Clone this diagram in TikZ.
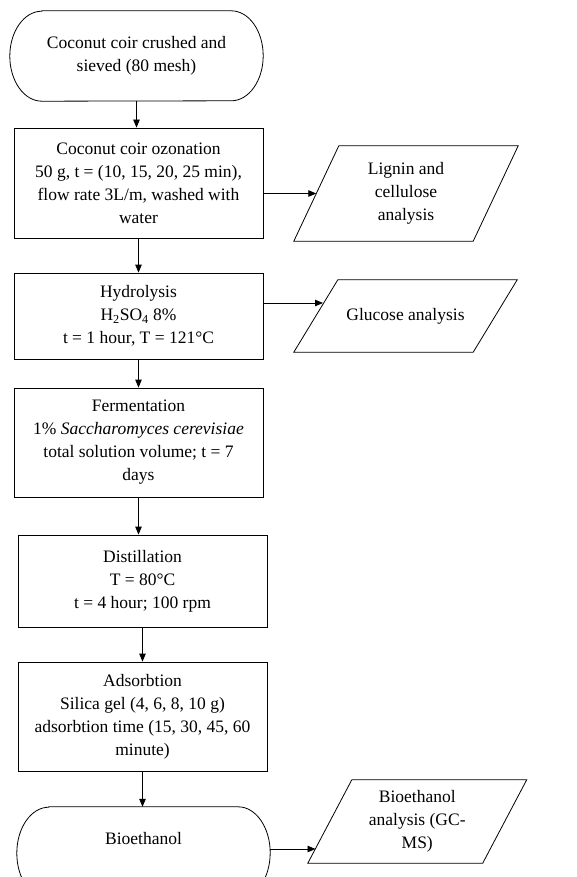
\documentclass[tikz,border=0pt]{standalone}
\usepackage{fontspec}
\setmainfont{Liberation Serif}
\usetikzlibrary{arrows.meta,positioning,calc}

\begin{document}
\begin{tikzpicture}[
    x=1pt, y=-1pt,
    proc/.style={rectangle, draw, line width=0.8pt, minimum width=249pt, align=center, inner sep=0pt},
    term/.style={rectangle, minimum width=253pt, align=center, inner sep=0pt},
    io/.style={rectangle, minimum width=179pt, align=center, inner sep=0pt},
    arr/.style={-{Triangle[length=8pt,width=6.5pt]}, line width=0.8pt},
    font=\fontsize{17.5}{23}\selectfont
]
\useasboundingbox (0,0) rectangle (577,877);
\clip (0,0) rectangle (577,877);
% main process chain
\node[term, minimum height=90pt] (start) at (136.5,56) {Coconut coir crushed and\\sieved (80 mesh)};
\node[proc, minimum height=110pt] (ozon) at (138.5,183) {Coconut coir ozonation\\50 g, t = (10, 15, 20, 25 min),\\flow rate 3L/m, washed with\\water};
\node[proc, minimum height=86pt] (hydro) at (138.5,316) {Hydrolysis\\H\textsubscript{2}SO\textsubscript{4} 8\%\\t = 1 hour, T = 121°C};
\node[proc, minimum height=109pt] (ferm) at (138.5,442.5) {Fermentation\\1\% \textit{Saccharomyces cerevisiae}\\total solution volume; t = 7\\days};
\node[proc, minimum height=92pt] (dist) at (142.5,581) {Distillation\\T = 80°C\\t = 4 hour; 100 rpm};
\node[proc, minimum height=109pt] (ads) at (142.5,716.5) {Adsorbtion\\Silica gel (4, 6, 8, 10 g)\\adsorbtion time (15, 30, 45, 60\\minute)};
\node[term, minimum height=92pt] (bio) at (143.5,853) {\raisebox{29pt}{Bioethanol}};
% terminal outlines (elliptic ends)
\foreach \n/\r in {start/45, bio/46} {
    \draw[line width=0.8pt] ($(\n.north west)+(32,0)$) -- ($(\n.north east)+(-32,0)$)
        arc[start angle=-90, end angle=90, x radius=32, y radius=\r]
        -- ($(\n.south west)+(32,0)$)
        arc[start angle=90, end angle=270, x radius=32, y radius=\r] -- cycle;
}
\foreach \a/\b in {start/ozon, ozon/hydro, hydro/ferm, ferm/dist, dist/ads, ads/bio} {
    \draw[arr] (\a.south) -- (\a.south |- \b.north);
}
% analyses
\node[io, minimum height=95pt] (lig) at (406,193.5) {Lignin and\\cellulose\\analysis};
\node[io, minimum height=72pt] (glu) at (405.5,316) {Glucose analysis};
\node[io, minimum width=174.5pt, minimum height=83pt] (gcms) at (417.25,821.5) {Bioethanol\\analysis (GC-\\MS)};
\foreach \n/\d in {lig/22.5, glu/22, gcms/22} {
    \draw[line width=0.8pt] ($(\n.north west)+(\d,0)$) -- ($(\n.north east)+(\d,0)$)
        -- ($(\n.south east)+(-\d,0)$) -- ($(\n.south west)+(-\d,0)$) -- cycle;
}
\coordinate (gluin) at (323,303);
\coordinate (gcmsin) at (315.5,849);
\draw[arr] (ozon.east |- lig.west) -- (lig.west);
\draw[arr] (hydro.east |- gluin) -- (gluin);
\draw[arr] (bio.east |- gcmsin) -- (gcmsin);
\end{tikzpicture}
\end{document}
